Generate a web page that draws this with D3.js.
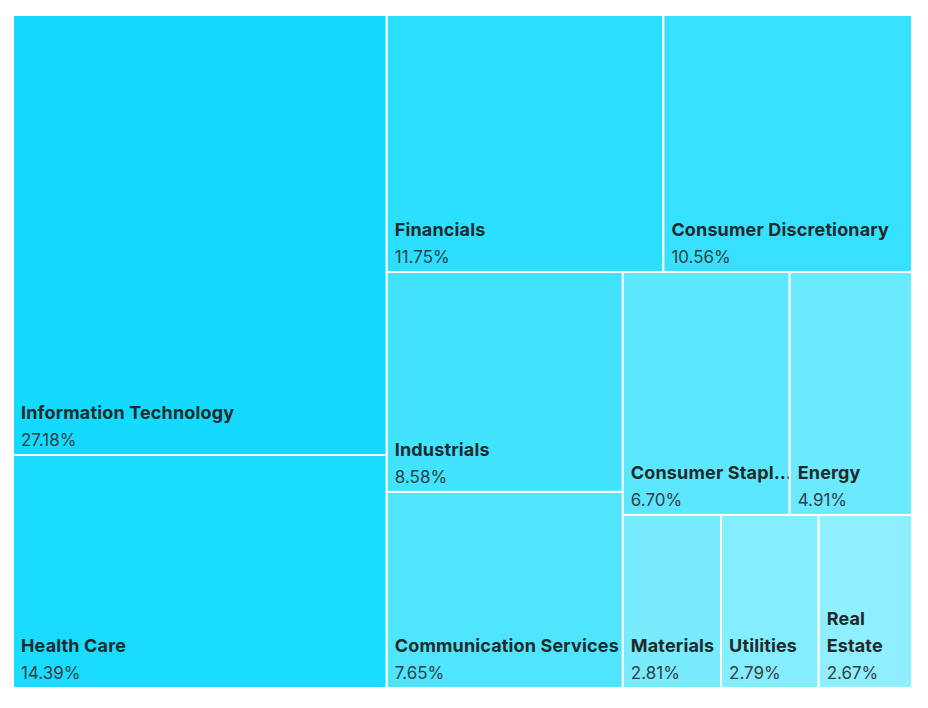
<!DOCTYPE html>
<html>
<head>
<meta charset="utf-8">
<script src="https://cdn.jsdelivr.net/npm/d3@7"></script>
<style>
  html, body { margin: 0; padding: 0; background: #fff; }
  svg { display: block; }
</style>
</head>
<body>
<svg id="chart" width="928" height="708"></svg>
<script>
const sectors = ["Information Technology", "Health Care", "Financials", "Consumer Discretionary", "Industrials", "Communication Services", "Consumer Staples", "Energy", "Materials", "Utilities", "Real Estate"];
const weights = [27.18, 14.39, 11.75, 10.56, 8.58, 7.65, 6.70, 4.91, 2.81, 2.79, 2.67];
const weightLabels = ["27.18%", "14.39%", "11.75%", "10.56%", "8.58%", "7.65%", "6.70%", "4.91%", "2.81%", "2.79%", "2.67%"];
const colors = ["#12dbff", "#1adcff", "#2adfff", "#36e1ff", "#42e3ff", "#4fe5ff", "#5ce7ff", "#6ae9ff", "#78ebff", "#84edff", "#90efff"];

const marginLeft = 13, marginTop = 15, plotW = 899, plotH = 673;
const svg = d3.select("#chart");

const rootData = { name: "root", children: sectors.map((s, i) => ({ name: s, value: weights[i], label: weightLabels[i], color: colors[i] })) };
const root = d3.hierarchy(rootData).sum(d => d.value || 0);
d3.treemap().tile(d3.treemapSquarify.ratio(1)).size([plotW, plotH]).round(false)(root);

const g = svg.append("g").attr("transform", `translate(${marginLeft},${marginTop})`);
const font = "Inter, 'Open Sans', sans-serif";

const cell = g.selectAll("g.cell").data(root.leaves()).join("g").attr("class", "cell");
cell.append("rect")
  .attr("x", d => d.x0).attr("y", d => d.y0)
  .attr("width", d => d.x1 - d.x0).attr("height", d => d.y1 - d.y0)
  .attr("fill", d => d.data.color)
  .attr("stroke", "#fff").attr("stroke-width", 2);

cell.each(function(d) {
  const sel = d3.select(this);
  const pad = 8;
  const avail = d.x1 - d.x0 - pad + 1;
  const valBase = d.y1 - 9;
  sel.append("text")
    .attr("x", d.x0 + pad).attr("y", valBase)
    .attr("font-family", font).attr("font-size", 17).attr("font-weight", 400)
    .attr("fill", "#34403f")
    .text(d.data.label);

  const name = sel.append("text")
    .attr("x", d.x0 + pad)
    .attr("font-family", font).attr("font-size", 18).attr("font-weight", 700)
    .attr("letter-spacing", 0.15)
    .attr("fill", "#1f2a2a");
  name.text(d.data.name);
  let lines = [d.data.name];
  if (name.node().getComputedTextLength() > avail) {
    const words = d.data.name.split(" ");
    let wrapOk = false;
    if (d.x1 - d.x0 < 120) {
      wrapOk = words.every(w => { name.text(w); return name.node().getComputedTextLength() <= avail; });
    }
    if (wrapOk) {
      lines = words;
    } else {
      const fitW = avail + 5;
      let t = d.data.name;
      name.text(t + "...");
      while (t.length > 1 && name.node().getComputedTextLength() > fitW) {
        t = t.slice(0, -1).trimEnd();
        name.text(t + "...");
      }
      lines = [t + "..."];
    }
  }
  name.text(null);
  const lineH = 27;
  const firstBase = valBase - lineH * lines.length;
  lines.forEach((ln, i) => {
    name.append("tspan").attr("x", d.x0 + pad).attr("y", firstBase + i * lineH).text(ln);
  });
});
</script>
</body>
</html>
